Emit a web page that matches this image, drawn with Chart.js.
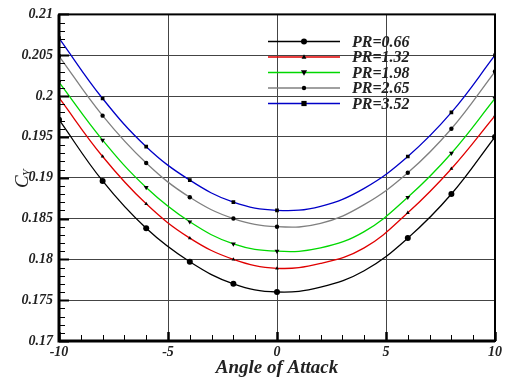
<!DOCTYPE html>
<html>
<head>
<meta charset="utf-8">
<script src="https://cdn.jsdelivr.net/npm/chart.js@4.4.0/dist/chart.umd.min.js"></script>
<style>
  html, body { margin: 0; padding: 0; background: #fff; }
  #wrap { width: 505px; height: 379px; }
</style>
</head>
<body>
<div id="wrap"><canvas id="grafico"></canvas></div>
<script>
// angulo de ataque
const angulos = [-10, -8, -6, -4, -2, 0, 2, 4, 6, 8, 10];
const rotulosPR = ['PR=0.66', 'PR=1.32', 'PR=1.98', 'PR=2.65', 'PR=3.52'];
const cy066 = [0.1971, 0.1896, 0.1838, 0.1797, 0.1770, 0.1760, 0.1766, 0.1786, 0.1826, 0.1880, 0.1950];
const cy132 = [0.1998, 0.1926, 0.1868, 0.1826, 0.1800, 0.1789, 0.1795, 0.1814, 0.1857, 0.1911, 0.1976];
const cy198 = [0.2017, 0.1946, 0.1888, 0.1846, 0.1819, 0.1810, 0.1814, 0.1834, 0.1876, 0.1930, 0.1997];
const cy265 = [0.2049, 0.1976, 0.1918, 0.1876, 0.1850, 0.1840, 0.1844, 0.1867, 0.1906, 0.1960, 0.2030];
const cy352 = [0.2071, 0.1997, 0.1938, 0.1897, 0.1870, 0.1860, 0.1865, 0.1887, 0.1926, 0.1980, 0.2050];
// angulos sem marcador no original
const semMarcador = [2, 4];

const fonteSerif = "'Liberation Serif', 'Times New Roman', serif";

const estilos = [
    { cor: '#000000', ponto: 'circle', raio: 3, rot: 0 },
    { cor: '#e00000', ponto: 'triangle', raio: 2.2, rot: 0 },
    { cor: '#00d800', ponto: 'triangle', raio: 2.8, rot: 180 },
    { cor: '#808080', ponto: 'circle', raio: 2.2, rot: 0 },
    { cor: '#0000c8', ponto: 'rect', raio: 2.6, rot: 0 }
];
const series = [cy066, cy132, cy198, cy265, cy352];

function montarDataset(i) {
    const est = estilos[i];
    return {
        label: rotulosPR[i],
        data: angulos.map((a, k) => ({ x: a, y: series[i][k] })),
        borderColor: est.cor,
        borderWidth: 1.3,
        backgroundColor: '#000',
        pointBackgroundColor: '#000',
        pointBorderColor: '#000',
        pointBorderWidth: 0,
        pointStyle: est.ponto,
        pointRotation: est.rot,
        pointRadius: angulos.map(a => semMarcador.includes(a) ? 0 : est.raio),
        tension: 0.4,
        fill: false
    };
}

function desenharPonto(ctx, tipo, x, y, r, rot) {
    ctx.save();
    ctx.fillStyle = '#000';
    ctx.translate(x, y);
    ctx.rotate(rot * Math.PI / 180);
    ctx.beginPath();
    if (tipo == 'circle') {
        ctx.arc(0, 0, r, 0, Math.PI * 2);
    } else if (tipo == 'rect') {
        ctx.rect(-r, -r, r * 2, r * 2);
    } else {
        ctx.moveTo(0, -r * 1.2);
        ctx.lineTo(r * 1.1, r * 0.8);
        ctx.lineTo(-r * 1.1, r * 0.8);
        ctx.closePath();
    }
    ctx.fill();
    ctx.restore();
}

// legenda, bordas, ticks menores e titulo do eixo y
const pluginMoldura = {
    id: 'moldura',
    afterDraw(chart) {
        const ctx = chart.ctx;
        const area = chart.chartArea;
        const sx = chart.scales.x;
        const sy = chart.scales.y;
        ctx.save();

        // ticks do eixo y
        ctx.strokeStyle = '#000';
        for (let k = 0; k <= 40; k++) {
            const v = 0.17 + k * 0.001;
            const py = Math.round(sy.getPixelForValue(v)) + 0.5;
            const maior = k % 5 == 0;
            ctx.lineWidth = maior ? 2 : 1;
            ctx.beginPath();
            ctx.moveTo(area.left, py);
            ctx.lineTo(area.left + (maior ? 10 : 6), py);
            ctx.stroke();
        }
        // ticks do eixo x
        for (let k = -10; k <= 10; k++) {
            const px = Math.round(sx.getPixelForValue(k)) + 0.5;
            const maior = k % 5 == 0;
            ctx.lineWidth = maior ? 2.5 : 1;
            ctx.beginPath();
            ctx.moveTo(px, area.bottom);
            ctx.lineTo(px, area.bottom - (maior ? 9 : 6));
            ctx.stroke();
        }

        // bordas
        ctx.lineWidth = 2;
        ctx.strokeRect(area.left, area.top, area.right - area.left, area.bottom - area.top);
        ctx.lineWidth = 3;
        ctx.beginPath();
        ctx.moveTo(area.left, area.top);
        ctx.lineTo(area.left, area.bottom);
        ctx.lineTo(area.right, area.bottom);
        ctx.stroke();

        // legenda
        ctx.font = "bold italic 16px " + fonteSerif;
        ctx.textBaseline = 'middle';
        for (let i = 0; i < rotulosPR.length; i++) {
            const ly = 41.5 + i * 15.5;
            ctx.strokeStyle = estilos[i].cor;
            ctx.lineWidth = 1.3;
            ctx.beginPath();
            ctx.moveTo(268, ly);
            ctx.lineTo(340, ly);
            ctx.stroke();
            desenharPonto(ctx, estilos[i].ponto, 304, ly, estilos[i].raio, estilos[i].rot);
            ctx.fillStyle = '#222';
            ctx.fillText(rotulosPR[i], 352, ly + 1);
        }

        // titulo y: C com indice Y
        ctx.translate(22, 180);
        ctx.rotate(-Math.PI / 2);
        ctx.fillStyle = '#222';
        ctx.textBaseline = 'alphabetic';
        ctx.font = "italic 19px " + fonteSerif;
        ctx.fillText('C', -8, 6);
        ctx.font = "italic 12px " + fonteSerif;
        ctx.fillText('Y', 4, 9);
        ctx.restore();
    }
};

const ctx1 = document.getElementById('grafico');

new Chart(ctx1, {
    type: 'line',
    data: {
        datasets: series.map((s, i) => montarDataset(i))
    },
    options: {
        responsive: true,
        maintainAspectRatio: false,
        animation: false,
        layout: { padding: { top: 10, right: 8, left: 0, bottom: 0 } },
        plugins: {
            legend: { display: false },
            tooltip: { enabled: false }
        },
        scales: {
            x: {
                type: 'linear',
                min: -10,
                max: 10,
                afterFit: function (escala) { escala.height = 38; },
                border: { display: false },
                grid: { color: '#444', lineWidth: 1, drawTicks: false },
                ticks: {
                    stepSize: 5,
                    padding: 3,
                    color: '#222',
                    font: { family: fonteSerif, size: 14, style: 'italic', weight: 'bold' }
                },
                title: {
                    display: true,
                    text: 'Angle of Attack',
                    color: '#222',
                    padding: { top: 0, bottom: 0 },
                    font: { family: fonteSerif, size: 19, style: 'italic', weight: 'bold' }
                }
            },
            y: {
                min: 0.17,
                max: 0.21,
                afterFit: function (escala) { escala.width = 59; },
                border: { display: false },
                grid: { color: '#444', lineWidth: 1, drawTicks: false },
                ticks: {
                    stepSize: 0.005,
                    padding: 6,
                    color: '#222',
                    font: { family: fonteSerif, size: 14, style: 'italic', weight: 'bold' },
                    callback: function (v) { return String(+v.toFixed(3)); }
                }
            }
        }
    },
    plugins: [pluginMoldura]
});
</script>
</body>
</html>
